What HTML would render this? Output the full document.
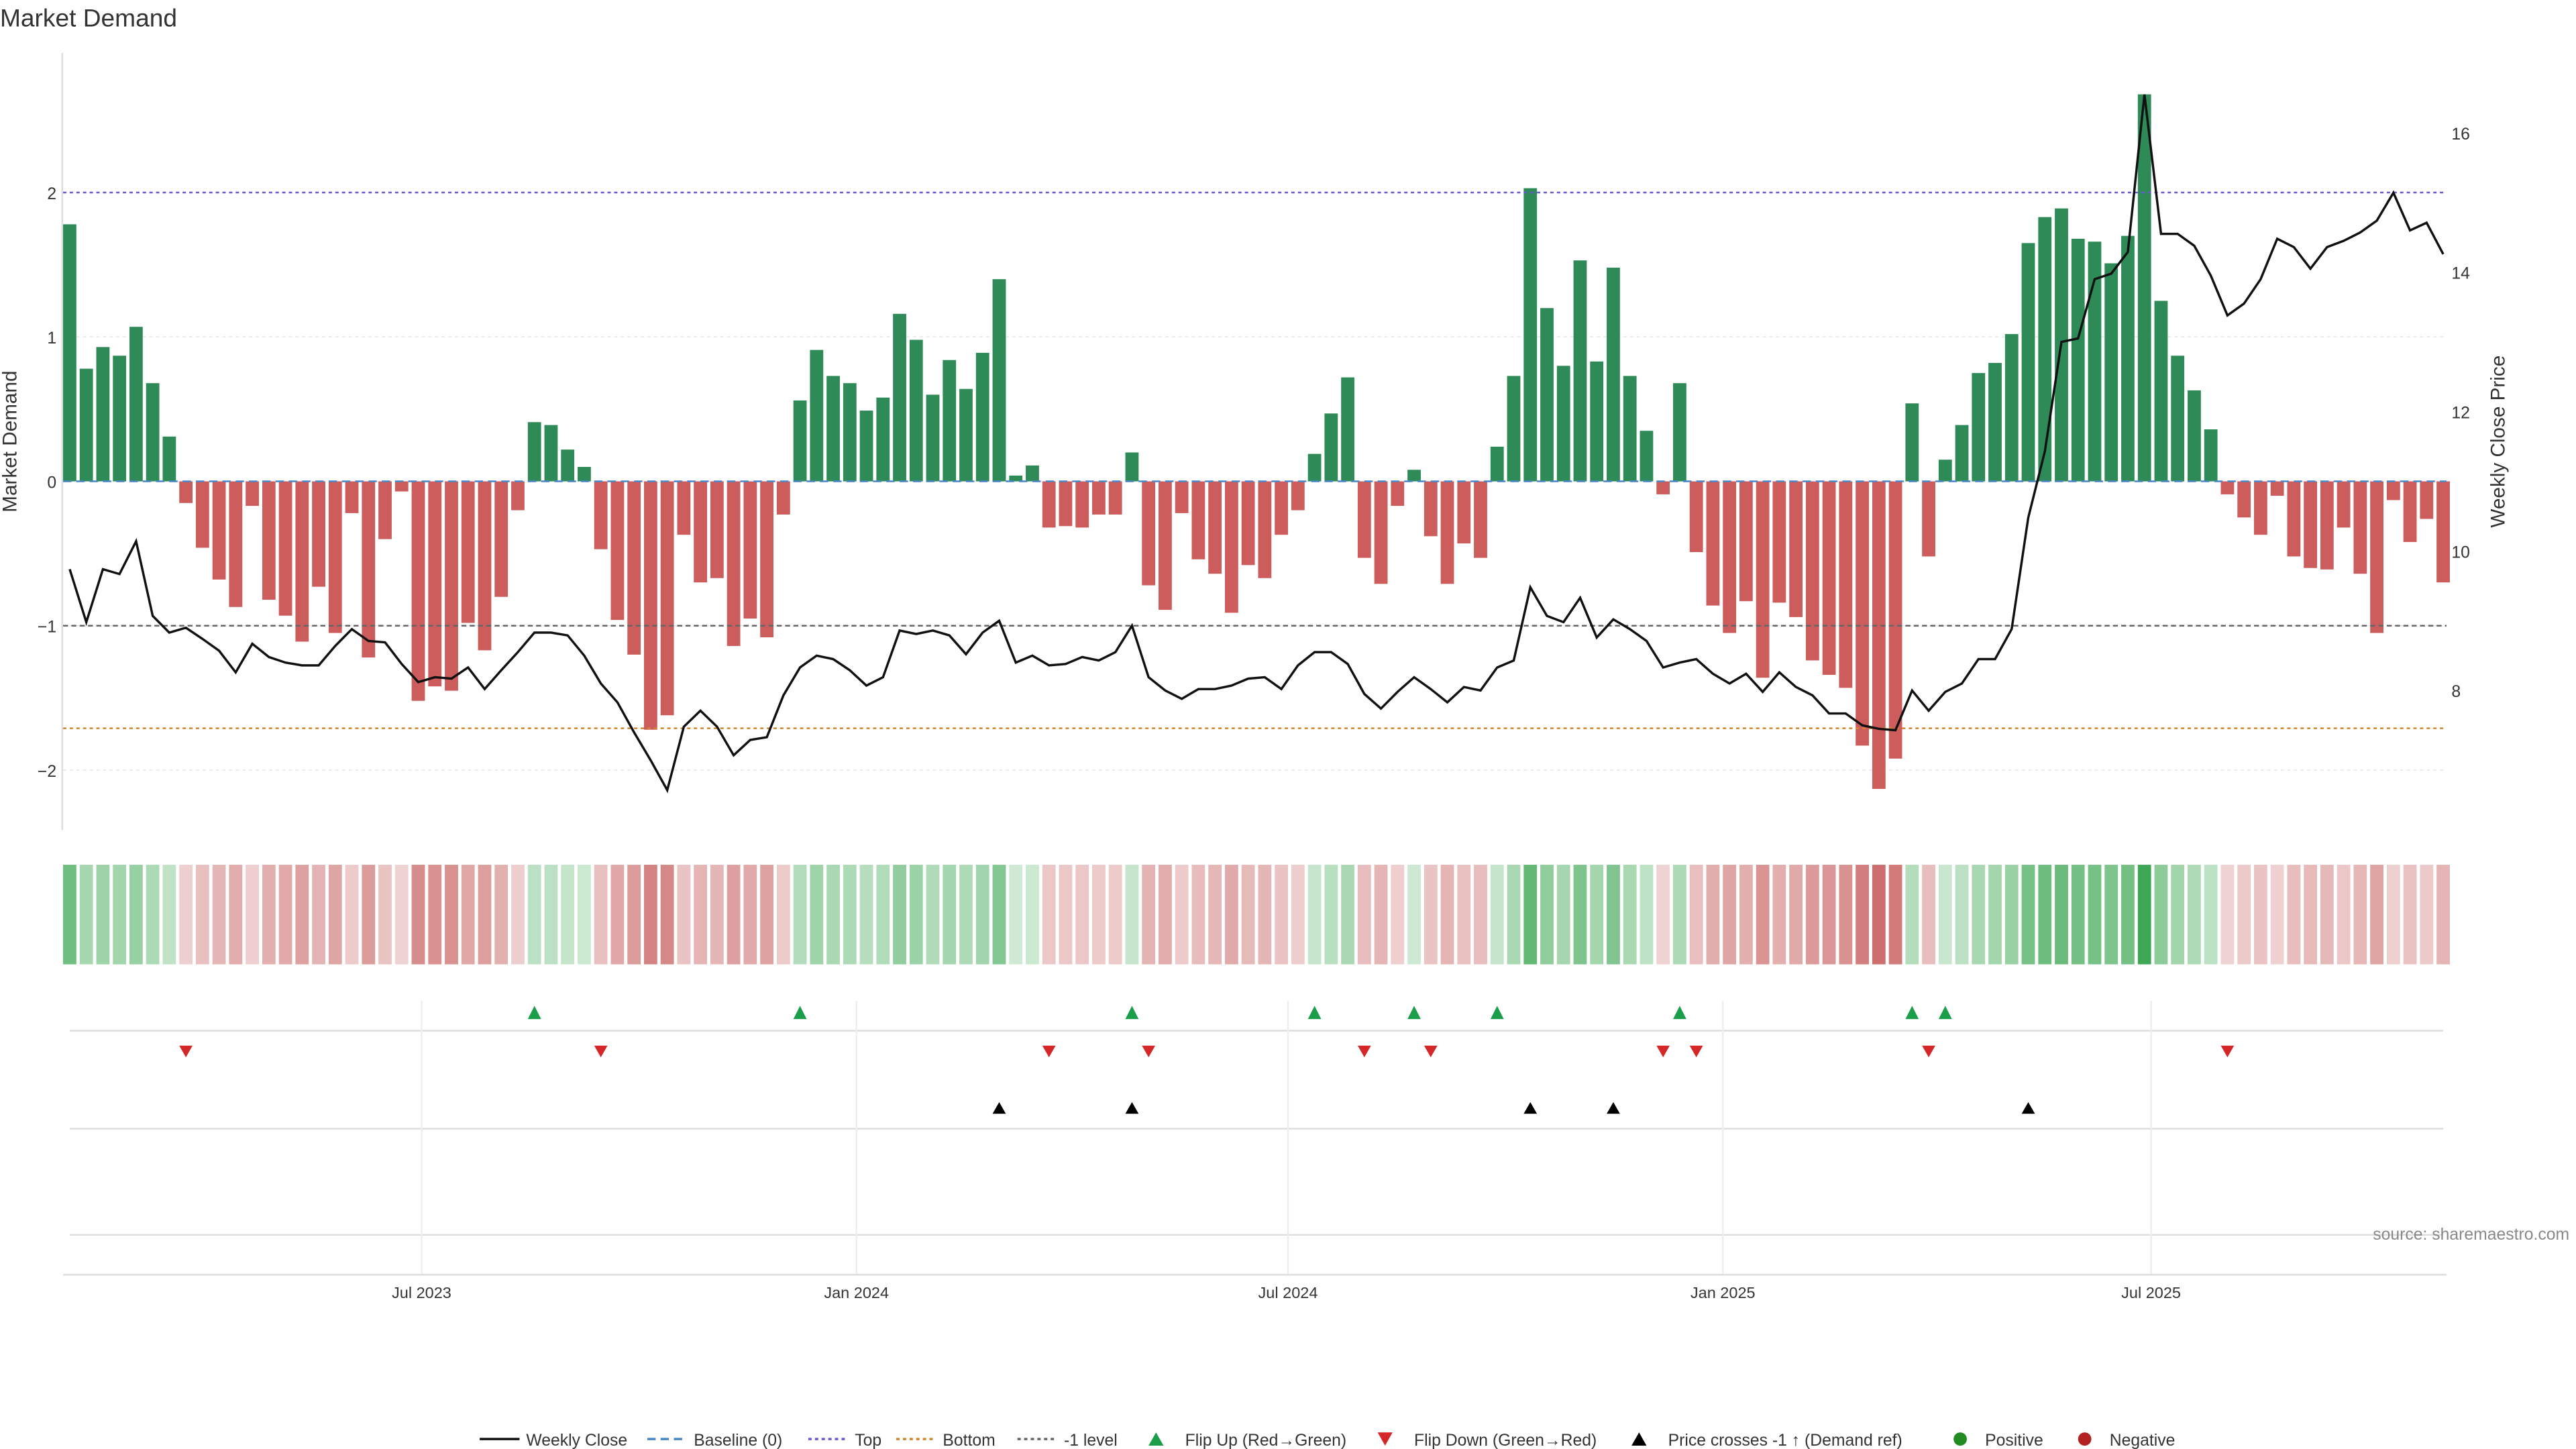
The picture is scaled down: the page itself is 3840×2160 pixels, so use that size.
<!DOCTYPE html>
<html><head><meta charset="utf-8"><style>
html,body{margin:0;padding:0;background:#fff;}
svg{display:block;font-family:"Liberation Sans","DejaVu Sans",sans-serif;}
</style></head><body>
<svg id="chart" width="3840" height="2160" viewBox="0 0 1552 873" xmlns="http://www.w3.org/2000/svg">
<rect width="1552" height="873" fill="#fff"/>
<text x="0" y="16" font-size="15" fill="#333">Market Demand</text>
<g id="grid"></g>
<g id="bars"></g>
<g id="lines"></g>
<g id="strip"></g>
<g id="markers"></g>
<g id="axes"></g>
<text x="1548" y="747" font-size="10" fill="#888" text-anchor="end">source: sharemaestro.com</text>
<g id="legend"></g>
</svg>
<script>
const demand = [1.78,0.78,0.93,0.87,1.07,0.68,0.31,-0.15,-0.46,-0.68,-0.87,-0.17,-0.82,-0.93,-1.11,-0.73,-1.05,-0.22,-1.22,-0.40,-0.07,-1.52,-1.42,-1.45,-0.98,-1.17,-0.80,-0.20,0.41,0.39,0.22,0.10,-0.47,-0.96,-1.20,-1.72,-1.62,-0.37,-0.70,-0.67,-1.14,-0.95,-1.08,-0.23,0.56,0.91,0.73,0.68,0.49,0.58,1.16,0.98,0.60,0.84,0.64,0.89,1.40,0.04,0.11,-0.32,-0.31,-0.32,-0.23,-0.23,0.20,-0.72,-0.89,-0.22,-0.54,-0.64,-0.91,-0.58,-0.67,-0.37,-0.20,0.19,0.47,0.72,-0.53,-0.71,-0.17,0.08,-0.38,-0.71,-0.43,-0.53,0.24,0.73,2.03,1.20,0.80,1.53,0.83,1.48,0.73,0.35,-0.09,0.68,-0.49,-0.86,-1.05,-0.83,-1.36,-0.84,-0.94,-1.24,-1.34,-1.43,-1.83,-2.13,-1.92,0.54,-0.52,0.15,0.39,0.75,0.82,1.02,1.65,1.83,1.89,1.68,1.66,1.51,1.70,2.68,1.25,0.87,0.63,0.36,-0.09,-0.25,-0.37,-0.10,-0.52,-0.60,-0.61,-0.32,-0.64,-1.05,-0.13,-0.42,-0.26,-0.70];
const price = [9.74,8.98,9.74,9.67,10.14,9.07,8.83,8.90,8.74,8.57,8.26,8.67,8.48,8.40,8.36,8.36,8.64,8.88,8.71,8.69,8.38,8.12,8.19,8.17,8.33,8.02,8.29,8.55,8.83,8.83,8.79,8.50,8.10,7.83,7.40,7.00,6.57,7.48,7.71,7.48,7.07,7.29,7.33,7.93,8.33,8.50,8.45,8.29,8.07,8.19,8.86,8.81,8.86,8.79,8.52,8.83,9.00,8.40,8.50,8.36,8.38,8.48,8.43,8.55,8.93,8.19,8.00,7.88,8.02,8.02,8.07,8.17,8.19,8.02,8.36,8.55,8.55,8.38,7.95,7.74,7.98,8.19,8.02,7.83,8.05,8.00,8.33,8.43,9.48,9.07,8.98,9.33,8.76,9.02,8.88,8.71,8.33,8.40,8.45,8.24,8.10,8.24,7.98,8.26,8.05,7.93,7.67,7.67,7.50,7.45,7.43,8.00,7.71,7.98,8.10,8.45,8.45,8.88,10.48,11.43,13.00,13.05,13.90,13.98,14.29,16.55,14.55,14.55,14.38,13.95,13.38,13.55,13.90,14.48,14.36,14.05,14.36,14.45,14.57,14.74,15.14,14.60,14.71,14.26];
const leftTicks = [-2,-1,0,1,2];
const rightTicks = [8,10,12,14,16];
const dateLabels = ["Jul 2023","Jan 2024","Jul 2024","Jan 2025","Jul 2025"];
const dateIdx = [21.2,47.4,73.4,99.6,125.4];
const topLevel = 2, bottomLevel = -1.71, minusOne = -1;

const NS="http://www.w3.org/2000/svg";
function mk(tag,attrs,parent,text){const e=document.createElementNS(NS,tag);for(const k in attrs)e.setAttribute(k,attrs[k]);if(text!==undefined)e.textContent=text;parent.appendChild(e);return e;}
const X = i => 42 + i*10;
const YL = v => 290 - v*87;
const YR = p => 80 + (16-p)*42;
const PR = v => 16 - (YL(v)-80)/42; // price equiv of a left-axis value
const g = id => document.getElementById(id);

// grid
for (const t of leftTicks){
  const l=mk('line',{x1:38,x2:1474,y1:YL(t),y2:YL(t),stroke:'#e6e6e6','stroke-width':0.6,'stroke-dasharray':'2,2'},g('grid'));
  
  
  const tx=mk('text',{x:34,y:YL(t)+4,'font-size':10,'text-anchor':'end',fill:'#333'},g('axes'),t<0?'\u2212'+(-t):String(t));
  
  
}
for (const t of rightTicks){
  const tx=mk('text',{x:1477,y:YR(t)+4,'font-size':10,fill:'#333'},g('axes'),String(t));
  
  
}
mk('line',{x1:37.5,x2:37.5,y1:32,y2:500,stroke:'#ddd','stroke-width':1},g('axes'));
const yt=mk('text',{x:10,y:266,'font-size':12,fill:'#333','text-anchor':'middle',transform:'rotate(-90 10 266)'},g('axes'),'Market Demand');


const yr=mk('text',{x:1509,y:266,'font-size':12,fill:'#333','text-anchor':'middle',transform:'rotate(-90 1509 266)'},g('axes'),'Weekly Close Price');



// bars
demand.forEach((v,i)=>{
  const y=Math.min(YL(v),YL(0)), h=Math.max(Math.abs(YL(v)-YL(0)),0.5);
  const r=mk('rect',{x:X(i)-4,y:y,width:8,height:h,fill:v>=0?'#2e8b57':'#cd5c5c'},g('bars'));
  
  
});
// reference lines
const refs=[[YL(topLevel),'#6a5acd','2,2','top-line'],[YL(bottomLevel),'#d2862e','2,2','bottom-line'],[YL(minusOne),'#666','3,2','minus-one-line'],[YL(0),'#4a86c5','5,3','baseline-line']];
for(const r of refs){
  const l=mk('line',{x1:38,x2:1474,y1:r[0],y2:r[0],stroke:r[1],'stroke-width':1,'stroke-dasharray':r[2]},g('lines'));
  
  
}
const pl=mk('polyline',{points:price.map((p,i)=>X(i)+','+YR(p)).join(' '),fill:'none',stroke:'#111','stroke-width':1.4},g('lines'));



// strip
const maxA=Math.max(...demand.map(Math.abs));
demand.forEach((v,i)=>{
  const a=0.22+0.7*Math.abs(v)/maxA;
  const r=mk('rect',{x:X(i)-4,y:521,width:8,height:60,fill:v>=0?`rgba(46,160,70,${a})`:`rgba(190,70,70,${a})`},g('strip'));
  
  
});

// marker panels
for(const y of [621,680,744]){ mk('line',{x1:42,x2:1472,y1:y,y2:y,stroke:'#ddd','stroke-width':1},g('markers')); }
mk('line',{x1:38,x2:1474,y1:768,y2:768,stroke:'#ddd','stroke-width':1},g('axes'));
dateIdx.forEach((d,k)=>{
  mk('line',{x1:X(d),x2:X(d),y1:603,y2:768,stroke:'#eee','stroke-width':1},g('markers'));
  const tx=mk('text',{x:X(d),y:782,'font-size':9.5,'text-anchor':'middle',fill:'#333'},g('axes'),dateLabels[k]);
  
  
});
const pThr=PR(minusOne);
for(let i=1;i<demand.length;i++){
  if(demand[i-1]<0&&demand[i]>=0){
    const m=mk('path',{d:`M${X(i)-4},${614}L${X(i)+4},${614}L${X(i)},${606}Z`,fill:'#1a9e4a'},g('markers'));
    
    
  }
  if(demand[i-1]>=0&&demand[i]<0){
    const m=mk('path',{d:`M${X(i)-4},${630}L${X(i)+4},${630}L${X(i)},${637}Z`,fill:'#d62728'},g('markers'));
    
    
  }
  if(price[i-1]<pThr&&price[i]>=pThr){
    const m=mk('path',{d:`M${X(i)-4},${671}L${X(i)+4},${671}L${X(i)},${664}Z`,fill:'#000'},g('markers'));
    
    
  }
}

// legend
const L=g('legend');
const items=[
 ['line',{stroke:'#111',dash:''},'Weekly Close',289],
 ['line',{stroke:'#4a86c5',dash:'5,3'},'Baseline (0)',390],
 ['line',{stroke:'#6a5acd',dash:'2,2'},'Top',487],
 ['line',{stroke:'#d2862e',dash:'2,2'},'Bottom',540],
 ['line',{stroke:'#666',dash:'2,2'},'-1 level',613],
 ['up',{fill:'#1a9e4a'},'Flip Up (Red\u2192Green)',692],
 ['down',{fill:'#d62728'},'Flip Down (Green\u2192Red)',830],
 ['up',{fill:'#000'},'Price crosses -1 \u2191 (Demand ref)',983],
 ['dot',{fill:'#228b22'},'Positive',1176],
 ['dot',{fill:'#b22222'},'Negative',1251]];
for(const it of items){
  const gx=it[3], y=867;
  const ge=mk('g',{},L);
  
  
  let tx;
  if(it[0]==='line'){mk('line',{x1:gx,x2:gx+24,y1:y,y2:y,stroke:it[1].stroke,'stroke-width':1.4,'stroke-dasharray':it[1].dash},ge);tx=gx+28;}
  else if(it[0]==='up'){mk('path',{d:`M${gx},${y+4}L${gx+9},${y+4}L${gx+4.5},${y-4}Z`,fill:it[1].fill},ge);tx=gx+22;}
  else if(it[0]==='down'){mk('path',{d:`M${gx},${y-4}L${gx+9},${y-4}L${gx+4.5},${y+4}Z`,fill:it[1].fill},ge);tx=gx+22;}
  else {mk('circle',{cx:gx+5,cy:y,r:4,fill:it[1].fill},ge);tx=gx+20;}
  mk('text',{x:tx,y:y+4,'font-size':10,fill:'#333'},ge,it[2]);
}
</script>
</body></html>
